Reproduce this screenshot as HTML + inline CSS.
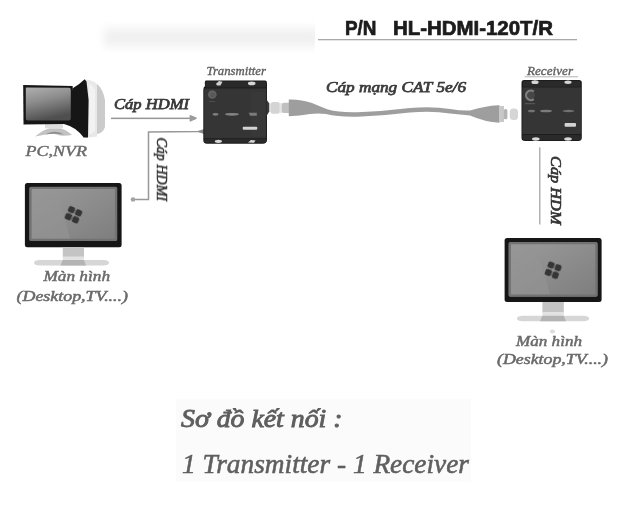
<!DOCTYPE html>
<html><head><meta charset="utf-8">
<style>
html,body{margin:0;padding:0;background:#fff;}
body{width:628px;height:522px;position:relative;overflow:hidden;}
svg{position:absolute;left:0;top:0;display:block;}
.s{font-family:"Liberation Serif",serif;font-style:italic;}
.sans{font-family:"Liberation Sans",sans-serif;font-weight:bold;}
</style></head><body>
<svg width="628" height="522" viewBox="0 0 628 522">
<defs>
  <filter id="blur4" x="-20%" y="-100%" width="140%" height="300%"><feGaussianBlur stdDeviation="4"/></filter>
  <filter id="blur1"><feGaussianBlur stdDeviation="0.6"/></filter>
  <filter id="tblur" x="-5%" y="-50%" width="110%" height="200%"><feGaussianBlur stdDeviation="0.3"/></filter>
  <filter id="blur07"><feGaussianBlur stdDeviation="0.55"/></filter>
  <filter id="blur05"><feGaussianBlur stdDeviation="0.4"/></filter>
  <linearGradient id="scrL" x1="0" y1="0" x2="1" y2="1">
    <stop offset="0" stop-color="#9a9a9a"/><stop offset="0.45" stop-color="#8e8e8e"/><stop offset="1" stop-color="#7e7e7e"/>
  </linearGradient>
  <linearGradient id="pcScr" x1="0" y1="0" x2="0.3" y2="1">
    <stop offset="0" stop-color="#b0b0b0"/><stop offset="0.45" stop-color="#8c8c8c"/><stop offset="1" stop-color="#505050"/>
  </linearGradient>
  <linearGradient id="neck" x1="0" y1="0" x2="0" y2="1">
    <stop offset="0" stop-color="#e6e6e6"/><stop offset="0.6" stop-color="#c8c8c8"/><stop offset="1" stop-color="#b0b0b0"/>
  </linearGradient>
  <linearGradient id="crt" x1="0" y1="0" x2="1" y2="0">
    <stop offset="0" stop-color="#f0f0f0"/><stop offset="0.6" stop-color="#dedede"/><stop offset="1" stop-color="#b8b8b8"/>
  </linearGradient>
</defs>

<!-- faint blurred band top-left -->
<clipPath id="bandclip"><rect x="0" y="0" width="315" height="80"/></clipPath>
<g clip-path="url(#bandclip)"><rect x="104" y="28" width="216" height="19" fill="#f1f1f1" filter="url(#blur4)"/></g>
<!-- faint bg box bottom -->
<rect x="176" y="399" width="295" height="82.5" fill="#fbfbfb"/>

<!-- P/N underline -->
<rect x="318" y="39" width="259" height="1.3" fill="#a8a8a8"/>

<!-- ===== PC monitor ===== -->
<g filter="url(#blur05)">
  <!-- CRT back -->
  <path d="M85 79.5 Q92 79.5 97 84 L97 136.5 Q92 137.5 85 137.5 Z" fill="#e8e8e8"/>
  <path d="M97 84 Q103 89 105 100 L105 127 Q103 133 97 134 Z" fill="#cbcbcb"/>
  <path d="M89 84 Q93 85 95 90 L95 130 Q93 134 89 134 Z" fill="#f2f2f2"/>
  <!-- side black -->
  <path d="M72.7 88.2 Q80 84 84.6 79.2 L86.5 81.5 L88.6 100 L88 137.5 L83.7 137.5 Q76 127 64 124 L64 120 Z" fill="#161616"/>
  <!-- stand -->
  <path d="M45 124 L63 124 L63 128.4 L45 128.4 Z" fill="#dedede"/>
  <path d="M35 136.5 Q44 129 50 128.4 L60 128.4 Q66 129 72 135 Q66 136 60 135.5 Q54 133 48 134 Q42 135 35 136.5 Z" fill="#c2c2c2"/>
  <path d="M45 134.5 Q50 131.5 55 131.7 Q60 132 64 134.5 Q55 133 45 134.5 Z" fill="#8e8e8e"/>
  <!-- front bezel -->
  <path d="M23.2 85 L72.7 86 L73 122 L64 124 L23.5 124.5 Z" fill="#141414"/>
  <path d="M25.8 87.5 L68.8 87.8 Q70.8 87.8 70.8 89.8 L70.8 118.5 Q70.8 120.4 68.8 120.4 L27.8 120.6 Q25.8 120.6 25.8 118.6 Z" fill="url(#pcScr)"/>
</g>

<!-- arrow PC->TX -->
<rect x="111" y="117.6" width="80" height="1.5" fill="#969696"/>
<path d="M190.5 116 Q190 115.6 190.8 116 L196 118.3 L190.8 120.6 Q190 121 190.5 120.6 Z" fill="#9a9a9a" stroke="#9a9a9a" stroke-width="1.6" stroke-linejoin="round"/>

<!-- monitor to TX cable -->
<path d="M133 199.5 L148.5 199.5 L148.5 131.9 L198 131.6 L204 131.4" fill="none" stroke="#989898" stroke-width="1.5"/>
<path d="M197 131.5 L204 129 L204 134 Z" fill="#8a8a8a"/>
<circle cx="133" cy="199.5" r="2.3" fill="#a4a4a4"/>

<!-- ===== Transmitter box ===== -->
<g filter="url(#blur07)">
  <path d="M206 80.6 L265 80.6 Q267 80.6 267 83 L267 140 Q266.5 143.8 263 143.8 L207 143.8 Q203.3 143.8 203.3 140 L203.3 90 Q203.3 87 205 86 L204.8 82.5 Q205 80.6 206 80.6 Z" fill="#1c1c1c"/>
  <rect x="204.3" y="88.5" width="62" height="49.5" fill="#363636"/>
  <rect x="205.5" y="81.6" width="60.5" height="6" rx="1.5" fill="#2a2a2a"/>
  <rect x="204.3" y="138.5" width="62" height="4.3" rx="1.5" fill="#2a2a2a"/>
  <rect x="251" y="92" width="14" height="44" fill="#383838"/>
  <circle cx="212.3" cy="94.5" r="4.3" fill="#626262"/>
  <circle cx="212.8" cy="95" r="2.5" fill="#585858"/>
  <rect x="209" y="101" width="6" height="1" fill="#4e4e4e"/>
  <ellipse cx="215.5" cy="114.3" rx="3" ry="1.4" fill="#7e7e7e"/>
  <ellipse cx="232" cy="114.3" rx="7" ry="1.4" fill="#848484"/>
  <path d="M248.8 112.8 L256.8 112.8 L256.8 115.7 L250 115.7 Z" fill="#7a7a7a"/>
  <rect x="242.8" y="126.8" width="14.4" height="2.9" rx="0.8" fill="#d4d4d4"/>
  <path d="M216 83.8 L219 81 L222.5 81.8 L220.5 85.5 L217 85.5 Z" fill="#cfcfcf"/>
  <ellipse cx="251.7" cy="83.4" rx="3.8" ry="1.8" fill="#d6d6d6"/>
  <ellipse cx="218.4" cy="141.3" rx="3.6" ry="1.6" fill="#d8d8d8"/>
  <path d="M248 142.5 L251 140 L255.5 140.5 L254 142.8 Z" fill="#d8d8d8"/>
</g>

<!-- ===== network cable ===== -->
<g filter="url(#blur05)">
  <path d="M266.5 99.5 L269.3 103.5 L269.3 111.5 L266.5 116 Z" fill="#3a3a3a"/>
  <rect x="270.3" y="101.9" width="9.8" height="11.8" rx="3" fill="#d4d4d4"/>
  <rect x="279.5" y="103" width="3" height="10" fill="#e6e6e6"/>
  <path d="M284 102.8 L290 102.8 L290 113 L284 113 Q281.7 113 281.7 110 L281.7 106 Q281.7 102.8 284 102.8 Z" fill="#c0c0c0"/>
  <path d="M288.8 99.5 Q300 99 312 103 Q322 107 328 109.5 Q340 113 362 112 Q385 111 410 108 Q432 106 450 109 Q462 111 470 110.5 Q485 106 498 105.3 L499.5 105.3 L499.5 122.8 Q485 122 470 115.5 Q460 114.5 450 113.5 Q432 110.5 410 112.5 Q385 115.5 362 116.5 Q340 117.5 326 114 Q318 113 310 114 Q300 116 288.8 116.2 Z" fill="#9e9e9e"/>
  <rect x="499" y="106" width="5" height="16" fill="#c8c8c8"/>
  <rect x="503.8" y="109" width="3.6" height="10.3" rx="1.5" fill="#b4b4b4"/>
  <rect x="509.8" y="108.5" width="8.2" height="11.5" rx="3.5" fill="#d6d6d6"/>
</g>

<!-- ===== Receiver box ===== -->
<line x1="524.6" y1="76.8" x2="578" y2="76.8" stroke="#b4b4b4" stroke-width="1"/>
<g filter="url(#blur07)">
  <path d="M524 80 L579.5 80 Q581.8 80 581.8 82.5 L581.8 138 Q581.5 141 578.5 141 L525 141 Q521.5 141 521.5 138 L521.5 83 Q521.5 80 524 80 Z" fill="#1c1c1c"/>
  <rect x="522.5" y="87.5" width="58.5" height="46.5" fill="#363636"/>
  <rect x="523" y="81" width="57.5" height="5.8" rx="1.5" fill="#2a2a2a"/>
  <rect x="522.5" y="135" width="58.5" height="5" rx="1.5" fill="#2a2a2a"/>
  <circle cx="530.3" cy="95.3" r="4.6" fill="#474747"/>
  <path d="M533.8 91.5 A4.8 4.8 0 1 0 533.8 99.1" fill="none" stroke="#7e7e7e" stroke-width="2.2"/>
  <rect x="525" y="103" width="10" height="1.3" fill="#555"/>
  <ellipse cx="531.5" cy="111" rx="3.5" ry="1.3" fill="#727272"/>
  <ellipse cx="546" cy="111" rx="6" ry="1.3" fill="#7c7c7c"/>
  <ellipse cx="568.5" cy="111" rx="6" ry="1.2" fill="#727272"/>
  <rect x="564.6" y="123" width="11.4" height="3.7" rx="1" fill="#d4d4d4"/>
  <ellipse cx="535" cy="82.2" rx="3.6" ry="1.9" fill="#d6d6d6"/>
  <ellipse cx="568" cy="82.2" rx="3.6" ry="1.7" fill="#d6d6d6"/>
  <ellipse cx="535.8" cy="139" rx="3.8" ry="1.7" fill="#d8d8d8"/>
  <ellipse cx="568" cy="139" rx="3.8" ry="1.7" fill="#d8d8d8"/>
</g>
<!-- cable down from receiver -->
<rect x="539" y="147.3" width="1.5" height="77.2" fill="#b2b2b2"/>

<!-- ===== Left monitor ===== -->
<g filter="url(#blur05)">
  <rect x="24.9" y="183" width="96.7" height="64.2" rx="2.5" fill="#141414"/>
  <rect x="29.3" y="186.8" width="87.9" height="54.2" rx="1.5" fill="#6e6e6e"/>
  <rect x="31" y="188.5" width="84.5" height="50.8" rx="1" fill="url(#scrL)"/>
  <path d="M31 188.5 L52 188.5 Q62 205 70 239.3 L31 239.3 Z" fill="#959595" opacity="0.6"/>
  <rect x="30.5" y="188" width="85.5" height="51.8" rx="1.5" fill="none" stroke="#727272" stroke-width="2.2" filter="url(#blur1)"/>
  <rect x="62.8" y="247" width="21.2" height="10" fill="#c4c4c4"/>
  <rect x="62.8" y="256.5" width="21.2" height="3.5" fill="#e2e2e2"/>
  <path d="M34 262.8 Q34 260 40 260 L103 260 Q109 260 109 262.8 Q109 265.5 103 265.5 L40 265.5 Q34 265.5 34 262.8 Z" fill="#d6d6d6"/>
  <path d="M62.8 260 L84 260 L86 265.5 L60.5 265.5 Z" fill="#b4b4b4"/>
  <g transform="translate(73.5 214.8) rotate(24)" fill="#343434" filter="url(#blur07)">
    <rect x="-7.2" y="-7" width="6.6" height="6.2" rx="1.8"/>
    <rect x="0.6" y="-7" width="6.6" height="6.2" rx="1.8"/>
    <rect x="-7.2" y="0.6" width="6.6" height="6.4" rx="1.8"/>
    <rect x="0.6" y="0.6" width="6.6" height="6.4" rx="1.8"/>
  </g>
</g>

<!-- ===== Right monitor ===== -->
<g filter="url(#blur05)">
  <rect x="504.6" y="238" width="97" height="64.1" rx="2.5" fill="#141414"/>
  <rect x="508.6" y="242" width="89" height="54.8" rx="1.5" fill="#6e6e6e"/>
  <rect x="510.3" y="243.7" width="85.6" height="51.4" rx="1" fill="url(#scrL)"/>
  <path d="M510.3 243.7 L532 243.7 Q542 262 550 295.1 L510.3 295.1 Z" fill="#959595" opacity="0.6"/>
  <rect x="509.8" y="243.2" width="86.6" height="52.4" rx="1.5" fill="none" stroke="#727272" stroke-width="2.2" filter="url(#blur1)"/>
  <rect x="542.4" y="302" width="21.4" height="10.5" fill="#c4c4c4"/>
  <rect x="542.4" y="312" width="21.4" height="3.8" fill="#e2e2e2"/>
  <path d="M517 318.5 Q517 315.7 523 315.7 L583 315.7 Q589 315.7 589 318.5 Q589 321.3 583 321.3 L523 321.3 Q517 321.3 517 318.5 Z" fill="#d6d6d6"/>
  <path d="M542.4 315.7 L563.8 315.7 L566 321.3 L540 321.3 Z" fill="#b4b4b4"/>
  <ellipse cx="552.5" cy="331.5" rx="2.6" ry="2" fill="#dcdcdc"/>
  <g transform="translate(553.2 270.2) rotate(20)" fill="#363636" filter="url(#blur07)">
    <rect x="-7" y="-7.2" width="6.5" height="6.2" rx="1.8"/>
    <rect x="0.6" y="-7.2" width="6.3" height="6.4" rx="1.8"/>
    <rect x="-7" y="0.4" width="6.5" height="6.6" rx="1.8"/>
    <rect x="0.6" y="0.6" width="6.3" height="6.8" rx="1.8"/>
  </g>
</g>

<!-- ===== TEXT ===== -->
<g class="sans" fill="#1c1c1c" stroke="#1c1c1c" stroke-width="0.7" filter="url(#tblur)">
  <text x="345" y="34.8" font-size="20.8" textLength="31.5" lengthAdjust="spacingAndGlyphs">P/N</text>
  <text x="393" y="34.8" font-size="20.8" textLength="160" lengthAdjust="spacingAndGlyphs">HL-HDMI-120T/R</text>
</g>
<g class="s" filter="url(#tblur)">
  <text x="206.5" y="75.2" font-size="12.8" fill="#5e5e5e" stroke="#5e5e5e" stroke-width="0.35" textLength="59.5" lengthAdjust="spacingAndGlyphs">Transmitter</text>
  <text x="527" y="75.2" font-size="12.5" fill="#5e5e5e" stroke="#5e5e5e" stroke-width="0.35" textLength="46" lengthAdjust="spacingAndGlyphs">Receiver</text>
  <text x="114" y="109.2" font-size="15.3" fill="#3a3a3a" stroke="#3a3a3a" stroke-width="0.75" textLength="75" lengthAdjust="spacingAndGlyphs">Cáp HDMI</text>
  <text x="326" y="91.7" font-size="15.3" fill="#3c3c3c" stroke="#3c3c3c" stroke-width="0.75" textLength="140" lengthAdjust="spacingAndGlyphs">Cáp mạng CAT 5e/6</text>
  <text x="25.5" y="155.8" font-size="15.3" fill="#686868" stroke="#686868" stroke-width="0.4" textLength="61.5" lengthAdjust="spacingAndGlyphs">PC,NVR</text>
  <text transform="translate(157 137.5) rotate(90)" x="0" y="0" font-size="15" fill="#353535" stroke="#353535" stroke-width="0.6" textLength="63.5" lengthAdjust="spacingAndGlyphs">Cáp HDMI</text>
  <text transform="translate(551 156) rotate(90)" x="0" y="0" font-size="15" fill="#353535" stroke="#353535" stroke-width="0.7" textLength="68.5" lengthAdjust="spacingAndGlyphs">Cáp HDM</text>
  <text x="43.5" y="281" font-size="14.8" fill="#6a6a6a" stroke="#6a6a6a" stroke-width="0.5" textLength="66.5" lengthAdjust="spacingAndGlyphs">Màn hình</text>
  <text x="16.5" y="301.3" font-size="14.4" fill="#6a6a6a" stroke="#6a6a6a" stroke-width="0.5" textLength="111.5" lengthAdjust="spacingAndGlyphs">(Desktop,TV....)</text>
  <text x="516" y="346" font-size="14.8" fill="#6a6a6a" stroke="#6a6a6a" stroke-width="0.5" textLength="66" lengthAdjust="spacingAndGlyphs">Màn hình</text>
  <text x="497" y="364.2" font-size="14.4" fill="#6a6a6a" stroke="#6a6a6a" stroke-width="0.5" textLength="111" lengthAdjust="spacingAndGlyphs">(Desktop,TV....)</text>
  <text x="181" y="426.8" font-size="26" fill="#5e5e5e" stroke="#5e5e5e" stroke-width="0.9" textLength="161.5" lengthAdjust="spacingAndGlyphs">Sơ đồ kết nối :</text>
  <text x="182" y="472.5" font-size="26.7" fill="#5e5e5e" stroke="#5e5e5e" stroke-width="0.55" textLength="287" lengthAdjust="spacingAndGlyphs">1 Transmitter - 1 Receiver</text>
</g>
</svg>
</body></html>
